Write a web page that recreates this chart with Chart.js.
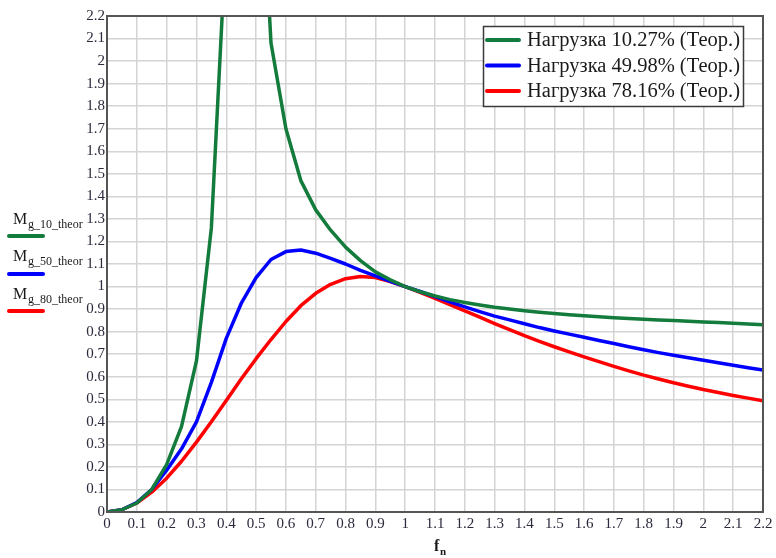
<!DOCTYPE html>
<html>
<head>
<meta charset="utf-8">
<script src="https://cdn.jsdelivr.net/npm/chart.js@4.4.1/dist/chart.umd.min.js"></script>
<style>
  html, body { margin: 0; padding: 0; background: #ffffff; }
  #wrap { width: 776px; height: 558px; }
</style>
</head>
<body>
<div id="wrap"><canvas id="c" width="776" height="558"></canvas></div>
<script>
// ---- data ----
const fnValues = [0, 0.05, 0.1, 0.15, 0.2, 0.25, 0.3, 0.35, 0.4, 0.45, 0.5, 0.55, 0.6, 0.65, 0.7, 0.75, 0.8, 0.85, 0.9, 0.95, 1.0,
  1.05, 1.1, 1.15, 1.2, 1.25, 1.3, 1.35, 1.4, 1.45, 1.5, 1.55, 1.6, 1.65, 1.7, 1.75, 1.8, 1.85, 1.9, 1.95, 2.0, 2.05, 2.1, 2.15, 2.2];

const load10 = [0, 0.01, 0.04, 0.1, 0.21, 0.38, 0.67, 1.26, 2.56, 4.0, 3.3, 2.08, 1.70, 1.47, 1.34, 1.25, 1.175, 1.115, 1.065, 1.03, 1.0,
  0.977, 0.958, 0.942, 0.929, 0.918, 0.908, 0.9, 0.893, 0.886, 0.88, 0.875, 0.87, 0.866, 0.862, 0.858, 0.855, 0.852, 0.849, 0.846, 0.843, 0.84, 0.837, 0.834, 0.831];

const load50 = [0, 0.01, 0.042, 0.1, 0.185, 0.28, 0.40, 0.575, 0.77, 0.925, 1.04, 1.12, 1.155, 1.162, 1.148, 1.125, 1.1, 1.072, 1.047, 1.023, 1.0,
  0.978, 0.955, 0.932, 0.91, 0.889, 0.869, 0.852, 0.835, 0.818, 0.803, 0.789, 0.775, 0.761, 0.747, 0.733, 0.72, 0.707, 0.695, 0.684, 0.673, 0.662, 0.651, 0.64, 0.63];

const load80 = [0, 0.01, 0.04, 0.088, 0.15, 0.225, 0.31, 0.40, 0.495, 0.59, 0.68, 0.765, 0.845, 0.915, 0.97, 1.01, 1.035, 1.045, 1.04, 1.022, 1.0,
  0.974, 0.947, 0.92, 0.892, 0.864, 0.836, 0.809, 0.782, 0.757, 0.733, 0.71, 0.688, 0.667, 0.646, 0.626, 0.607, 0.59, 0.573, 0.558, 0.543, 0.53, 0.517, 0.505, 0.493];

const seriesLabels = ['Нагрузка 10.27% (Теор.)', 'Нагрузка 49.98% (Теор.)', 'Нагрузка 78.16% (Теор.)'];
const sideLabels = ['g_10_theor', 'g_50_theor', 'g_80_theor'];
const axisMin = 0, axisMax = 2.2, axisStep = 0.1;

// ---- styles ----
const colors = ['#137b3b', '#0000ff', '#ff0000'];
const tickColor = '#2a2a3c';
const serif = '"Liberation Serif", "Times New Roman", serif';

function pts(vals) { return fnValues.map((x, i) => ({ x: x, y: vals[i] })); }

const frame = {
  id: 'frame',
  afterDatasetsDraw(chart) {
    const ctx = chart.ctx, a = chart.chartArea;
    ctx.save();
    ctx.strokeStyle = '#555555';
    ctx.lineWidth = 2;
    ctx.strokeRect(a.left, a.top, a.right - a.left, a.bottom - a.top);

    // legend box inside plot
    const bx = 483.5, by = 26.5, bw = 260, bh = 80;
    ctx.fillStyle = '#ffffff';
    ctx.fillRect(bx, by, bw, bh);
    ctx.strokeStyle = '#3a3a3a';
    ctx.lineWidth = 1.5;
    ctx.strokeRect(bx, by, bw, bh);
    const rows = [40, 65.5, 91];
    ctx.font = '20px ' + serif;
    const w0 = ctx.measureText(seriesLabels[0]).width;
    const fs = 20 * 213 / w0;
    chart.data.datasets.forEach((ds, i) => {
      ctx.strokeStyle = ds.borderColor;
      ctx.lineWidth = 4;
      ctx.lineCap = 'round';
      ctx.beginPath();
      ctx.moveTo(487, rows[i]);
      ctx.lineTo(519, rows[i]);
      ctx.stroke();
      ctx.fillStyle = '#1a1a1a';
      ctx.font = fs.toFixed(2) + 'px ' + serif;
      ctx.textBaseline = 'middle';
      ctx.textAlign = 'left';
      ctx.fillText(ds.label, 527, rows[i] + 1);
    });

    // left-side variable legend
    const baseY = [224, 261, 299];
    const lineY = [236, 274, 311];
    chart.data.datasets.forEach((ds, i) => {
      ctx.fillStyle = '#1a1a1a';
      ctx.textBaseline = 'alphabetic';
      ctx.textAlign = 'left';
      ctx.font = '16px ' + serif;
      ctx.fillText('M', 13, baseY[i]);
      ctx.font = '12px ' + serif;
      ctx.fillText(sideLabels[i], 28, baseY[i] + 4);
      ctx.strokeStyle = ds.borderColor;
      ctx.lineWidth = 4;
      ctx.lineCap = 'round';
      ctx.beginPath();
      ctx.moveTo(9, lineY[i]);
      ctx.lineTo(43, lineY[i]);
      ctx.stroke();
    });

    // x axis title f_n
    ctx.fillStyle = '#1a1a1a';
    ctx.font = 'bold 16px ' + serif;
    ctx.fillText('f', 434, 551);
    ctx.font = 'bold 11px ' + serif;
    ctx.fillText('n', 440, 555);
    ctx.restore();
  }
};

const fmt = v => String(Number(v.toFixed(1)));

new Chart(document.getElementById('c'), {
  type: 'line',
  data: {
    datasets: [
      { label: seriesLabels[0], data: pts(load10), borderColor: colors[0], borderWidth: 3.5 },
      { label: seriesLabels[1], data: pts(load50), borderColor: colors[1], borderWidth: 3.5 },
      { label: seriesLabels[2], data: pts(load80), borderColor: colors[2], borderWidth: 3.5 }
    ]
  },
  options: {
    responsive: false,
    animation: false,
    devicePixelRatio: 1,
    parsing: true,
    elements: { point: { radius: 0 }, line: { tension: 0, borderCapStyle: 'round', borderJoinStyle: 'round' } },
    layout: { padding: { left: 0, right: 13, top: 16, bottom: 0 } },
    plugins: { legend: { display: false }, title: { display: false }, tooltip: { enabled: false } },
    scales: {
      x: {
        type: 'linear', min: axisMin, max: axisMax,
        afterFit: s => { s.height = 46; },
        ticks: { stepSize: axisStep, color: tickColor, font: { family: serif, size: 15 }, padding: 3, maxRotation: 0, autoSkip: false, callback: fmt },
        grid: { color: '#d4d4d4', lineWidth: 1.5, drawTicks: false },
        border: { display: false }
      },
      y: {
        type: 'linear', min: axisMin, max: axisMax,
        afterFit: s => { s.width = 107; },
        ticks: { stepSize: axisStep, color: tickColor, font: { family: serif, size: 15 }, padding: 2, autoSkip: false, callback: fmt },
        grid: { color: '#d4d4d4', lineWidth: 1.5, drawTicks: false },
        border: { display: false }
      }
    }
  },
  plugins: [frame]
});
</script>
</body>
</html>
